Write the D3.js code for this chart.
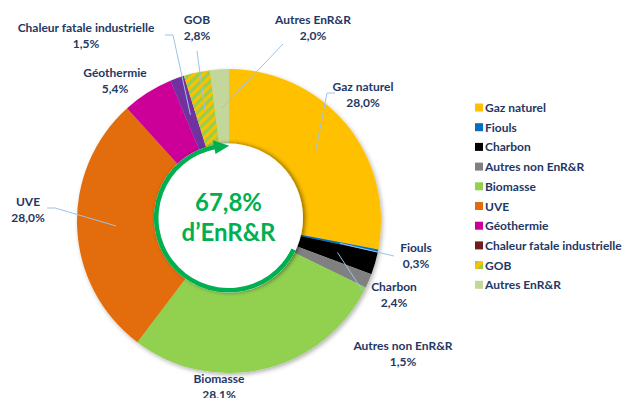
<!DOCTYPE html>
<html>
<head>
<meta charset="utf-8">
<script src="https://cdn.jsdelivr.net/npm/d3@7"></script>
<style>
  body { margin: 0; background: #fff; }
  svg { display: block; }
  text { font-family: Lato, "Open Sans", sans-serif; font-weight: 700; }
</style>
</head>
<body>
<svg id="chart" width="623" height="398"></svg>
<script>
// Mix énergétique des réseaux de chaleur (parts en %)
const categories = ["Gaz naturel", "Fiouls", "Charbon", "Autres non EnR&R", "Biomasse", "UVE",
                    "Géothermie", "Chaleur fatale industrielle", "GOB", "Autres EnR&R"];
const values = [28.0, 0.3, 2.4, 1.5, 28.1, 28.0, 5.4, 1.5, 2.8, 2.0];
const renewable = [false, false, false, false, true, true, true, true, true, true];
const centerCaption = "d’EnR&R";

// Couleurs des secteurs et de la légende
const sliceColors = ["#FFC000", "#0070C0", "#000000", "#808080", "#92D050", "#E36C0A",
                     "#CC0099", "#7030A0", "url(#gobHatch)", "#C4D79B"];
const legendColors = ["#FFC000", "#0070C0", "#000000", "#808080", "#92D050", "#E36C0A",
                      "#CC0099", "#6E1C1C", "url(#gobHatchSmall)", "#C4D79B"];

const fmt = v => d3.format(".1f")(v).replace(".", ",") + "%";

// Placement des étiquettes (centre de la 1re ligne) et coudes des traits de rappel
const labelLayout = {
  "Gaz naturel":                 { x: 363, y: 87,  line: [[335, 93], [327, 93]] },
  "Fiouls":                      { x: 416, y: 248, line: [[394, 256]] },
  "Charbon":                     { x: 394, y: 287, line: [[364, 293]] },
  "Autres non EnR&R":            { x: 403, y: 346, line: null },
  "Biomasse":                    { x: 219, y: 379, line: null },
  "UVE":                         { x: 28,  y: 202, line: [[47, 208], [55, 208]] },
  "Géothermie":                  { x: 115, y: 73,  line: null },
  "Chaleur fatale industrielle": { x: 86,  y: 28,  line: [[165, 35], [173, 35]] },
  "GOB":                         { x: 197, y: 20,  line: [[197, 51]] },
  "Autres EnR&R":                { x: 313, y: 20,  line: [[283, 44]] }
};

const rows = categories.map((c, i) => ({ name: c, value: values[i], renewable: renewable[i],
                                        color: sliceColors[i], legend: legendColors[i] }));

const svg = d3.select("#chart");
const defs = svg.append("defs");

function hatch(id, size) {
  const p = defs.append("pattern").attr("id", id).attr("patternUnits", "userSpaceOnUse")
    .attr("width", size).attr("height", size).attr("patternTransform", "rotate(45)");
  p.append("rect").attr("width", size).attr("height", size).attr("fill", "#92D050");
  p.append("rect").attr("width", size / 2).attr("height", size).attr("fill", "#FFC000");
}
hatch("gobHatch", 6.5);
hatch("gobHatchSmall", 8);

const shadow = defs.append("filter").attr("id", "shadow")
  .attr("x", "-20%").attr("y", "-20%").attr("width", "140%").attr("height", "140%");
shadow.append("feDropShadow").attr("dx", 1.5).attr("dy", 2).attr("stdDeviation", 2)
  .attr("flood-color", "#000").attr("flood-opacity", 0.3);

const discShadow = defs.append("filter").attr("id", "discShadow")
  .attr("x", "-20%").attr("y", "-20%").attr("width", "140%").attr("height", "140%");
discShadow.append("feDropShadow").attr("dx", 2).attr("dy", 0).attr("stdDeviation", 2.2)
  .attr("flood-color", "#000").attr("flood-opacity", 0.45);

const cx = 229, cy = 221, rOuter = 152, rInner = 72;
const pie = d3.pie().sort(null).value(d => d.value);
const arcs = pie(rows);
const arc = d3.arc().innerRadius(rInner).outerRadius(rOuter);

const donut = svg.append("g").attr("transform", `translate(${cx},${cy})`);
donut.append("g").attr("filter", "url(#shadow)")
  .selectAll("path").data(arcs).join("path")
  .attr("d", arc)
  .attr("fill", d => d.data.color);

// Disque central et flèche verte de la part renouvelable
const dcx = 228.5, dcy = 218, rDisc = 74.5;
const center = svg.append("g").attr("transform", `translate(${dcx},${dcy})`);
center.append("circle").attr("r", rDisc).attr("fill", "#fff").attr("filter", "url(#discShadow)");

const enrShare = d3.sum(rows.filter(d => d.renewable), d => d.value);
const angle = d3.scaleLinear().domain([0, d3.sum(values)]).range([0, 2 * Math.PI]);
const ringR = 72.3, ringW = 4.6;
const startA = angle(d3.sum(values) - enrShare);
const tipA = angle(d3.sum(values)) + 0.01;
const baseA = tipA - 0.21;
center.append("path")
  .attr("d", d3.arc().innerRadius(ringR - ringW / 2).outerRadius(ringR + ringW / 2)
    .startAngle(startA).endAngle(baseA + 0.01)())
  .attr("fill", "#00B050");
const headW = 7;
const head = [d3.pointRadial(baseA, ringR - headW), d3.pointRadial(baseA, ringR + headW),
              d3.pointRadial(tipA, ringR)];
center.append("path").attr("d", d3.line()(head) + "Z").attr("fill", "#00B050");

center.append("text").attr("text-anchor", "middle").attr("y", -7)
  .attr("font-size", 24).attr("fill", "#00B050").text(fmt(enrShare));
center.append("text").attr("text-anchor", "middle").attr("y", 23)
  .attr("font-size", 24).attr("fill", "#00B050").text(centerCaption);

// Étiquettes et traits de rappel
const labelColor = "#1F3864";
const centroidArc = d3.arc().innerRadius(rInner + 2).outerRadius(rOuter);
arcs.forEach(a => {
  const L = labelLayout[a.data.name];
  if (L.line) {
    const c = centroidArc.centroid(a);
    const pts = L.line.concat([[cx + c[0], cy + c[1]]]);
    svg.append("path").attr("d", d3.line()(pts)).attr("fill", "none")
      .attr("stroke", "#9DC3E6").attr("stroke-width", 1);
  }
  const t = svg.append("text").attr("text-anchor", "middle").attr("fill", labelColor)
    .attr("font-size", 12);
  t.append("tspan").attr("x", L.x).attr("y", L.y + 4).text(a.data.name);
  t.append("tspan").attr("x", L.x).attr("y", L.y + 20).text(fmt(a.data.value));
});

// Légende
const legend = svg.append("g").attr("transform", "translate(475,107.5)");
const item = legend.selectAll("g").data(rows).join("g")
  .attr("transform", (d, i) => `translate(0,${i * 19.7})`);
item.append("rect").attr("x", 0).attr("y", -4).attr("width", 8).attr("height", 8)
  .attr("fill", d => d.legend);
item.append("text").attr("x", 10).attr("y", 4.5).attr("font-size", 12)
  .attr("fill", labelColor).text(d => d.name);
</script>
</body>
</html>
